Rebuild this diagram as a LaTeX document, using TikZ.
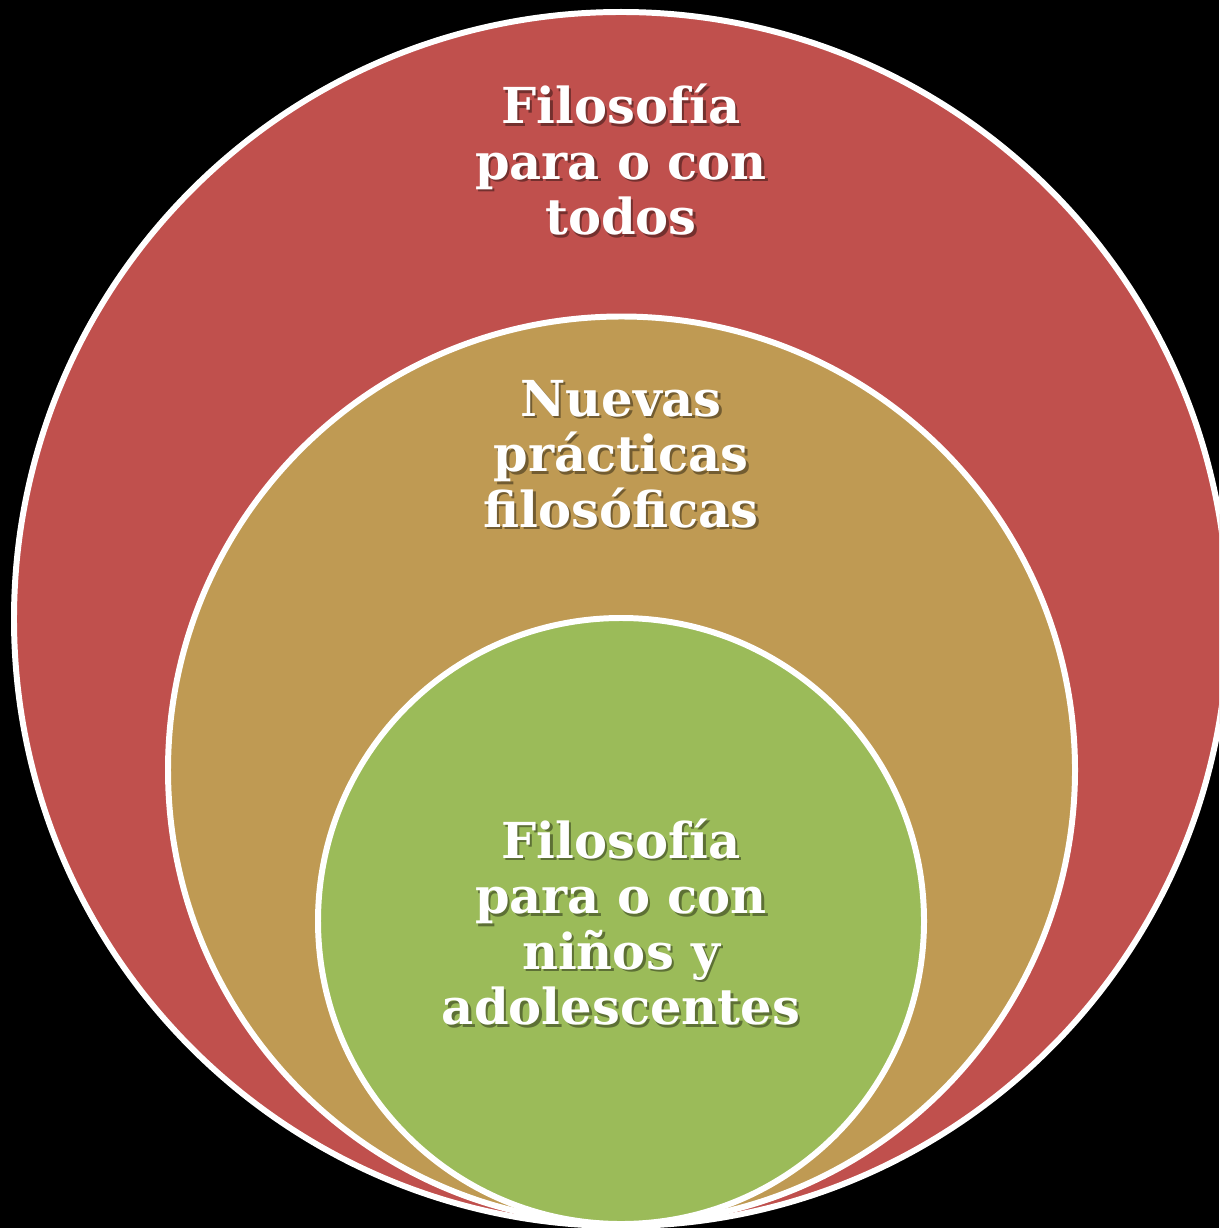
\documentclass[tikz,border=0pt]{standalone}
\usepackage{fontspec}
\setmainfont{DejaVu Serif}
\usetikzlibrary{positioning}
\definecolor{ringred}{HTML}{C0504D}
\definecolor{ringtan}{HTML}{BF9A53}
\definecolor{ringgreen}{HTML}{9BBB59}
\tikzset{
  ring/.style={draw=white,line width=1.7pt},
  circtext/.style={font=\bfseries\fontsize{14.1}{15.8}\selectfont,text=white,align=center},
  txtshadow/.style={circtext,text=black,text opacity=0.4}
}
\begin{document}
\begin{tikzpicture}
\useasboundingbox (0,0) rectangle (12.19,-12.28);
\fill[black] (0,0) rectangle (12.19,-12.28);
\clip (0,0) rectangle (12.19,-12.28);
\draw[ring,fill=ringred] (6.21,-6.19) circle (6.07);
\draw[ring,fill=ringtan] (6.215,-7.70) circle (4.535);
\draw[ring,fill=ringgreen] (6.21,-9.21) circle (3.03);

\node[txtshadow] (todosS) at (6.235,-1.625) {Filosofía\\para o con\\todos};
\node[circtext] (todos) at (6.21,-1.60) {Filosofía\\para o con\\todos};

\node[txtshadow] (nuevasS) at (6.235,-4.565) {Nuevas\\prácticas\\filosóficas};
\node[circtext] (nuevas) at (6.21,-4.54) {Nuevas\\prácticas\\filosóficas};

\node[txtshadow] (ninosS) at (6.235,-9.245) {Filosofía\\para o con\\niños y\\adolescentes};
\node[circtext] (ninos) at (6.21,-9.22) {Filosofía\\para o con\\niños y\\adolescentes};
\end{tikzpicture}
\end{document}
